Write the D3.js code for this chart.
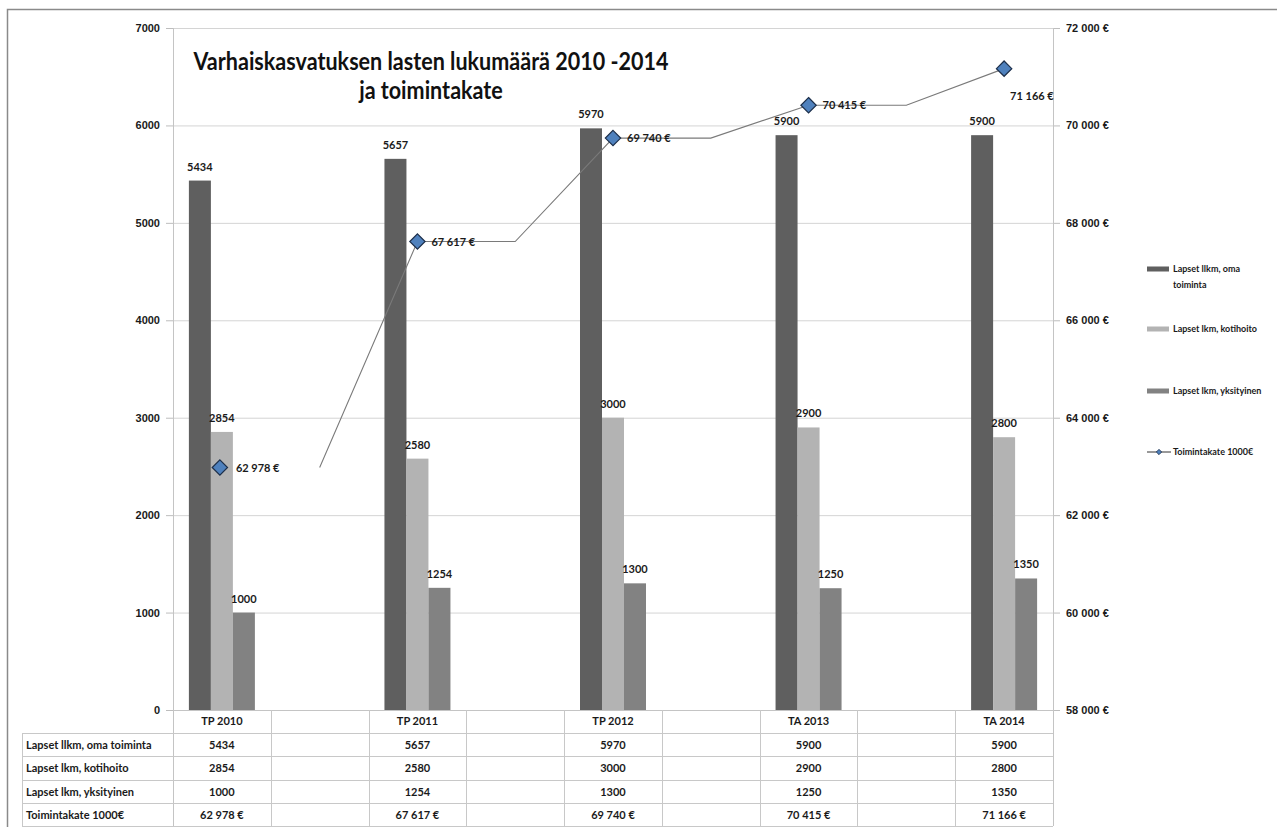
<!DOCTYPE html>
<html>
<head>
<meta charset="utf-8">
<script src="https://cdn.jsdelivr.net/npm/d3@7"></script>
<style>
  body { margin: 0; background: #fff; }
  svg { display: block; font-family: Lato, "Open Sans", sans-serif; }
</style>
</head>
<body>
<script>
// data
var categories = ["TP 2010", "", "TP 2011", "", "TP 2012", "", "TA 2013", "", "TA 2014"];
var omaToiminta = [5434, null, 5657, null, 5970, null, 5900, null, 5900];
var kotihoito = [2854, null, 2580, null, 3000, null, 2900, null, 2800];
var yksityinen = [1000, null, 1254, null, 1300, null, 1250, null, 1350];
var toimintakate = [62978, null, 67617, null, 69740, null, 70415, null, 71166];
// the line itself is drawn one category late in the original, with flat steps between years
var toimintakateLine = [null, 62978, 67617, 67617, 69740, 69740, 70415, 70415, 71166];

var seriesNames = ["Lapset llkm, oma toiminta", "Lapset lkm, kotihoito", "Lapset lkm, yksityinen"];
var lineName = "Toimintakate 1000€";
var leftTicks = [0, 1000, 2000, 3000, 4000, 5000, 6000, 7000];
var rightTicks = [58000, 60000, 62000, 64000, 66000, 68000, 70000, 72000];

var barColors = ["#5f5f5f", "#b3b3b3", "#828282"];
var gridColor = "#d4d4d4";

var width = 1277, height = 827;
var plot = {left: 173, right: 1053, top: 28, bottom: 710};

var svg = d3.select("body").append("svg")
    .attr("width", width)
    .attr("height", height);

// outer frame
svg.append("rect")
    .attr("x", 7.5).attr("y", 9.5)
    .attr("width", 1300).attr("height", 900)
    .attr("fill", "none")
    .attr("stroke", "#8a8a8a")
    .attr("stroke-width", 1.5);

var x = d3.scaleBand()
    .domain(d3.range(categories.length))
    .range([plot.left, plot.right]);

var inner = d3.scaleBand()
    .domain([0, 1, 2])
    .range([-33, 33]);

var y = d3.scaleLinear().domain([0, 7000]).range([plot.bottom, plot.top]);
var y2 = d3.scaleLinear().domain([58000, 72000]).range([plot.bottom, plot.top]);

var euro = d3.formatLocale({decimal: ",", thousands: " ", grouping: [3], currency: ["", " €"]}).format("$,.0f");

// gridlines
svg.append("g").selectAll("line")
  .data(leftTicks.filter(function(d) { return d > 0; }))
  .enter().append("line")
    .attr("x1", plot.left).attr("x2", plot.right)
    .attr("y1", function(d) { return y(d) + 0.5; })
    .attr("y2", function(d) { return y(d) + 0.5; })
    .attr("stroke", gridColor);

// left axis
var leftAxis = svg.append("g")
    .attr("transform", "translate(" + plot.left + ",0)")
    .call(d3.axisLeft(y).tickValues(leftTicks).tickSize(7).tickPadding(6).tickFormat(d3.format("d")));
leftAxis.select(".domain").remove();
leftAxis.selectAll(".tick line").attr("stroke", "#bdbdbd");
leftAxis.selectAll("text").attr("font-size", 11).attr("font-weight", 700).attr("fill", "#1a1a1a");
svg.append("line")
    .attr("x1", plot.left + 0.5).attr("x2", plot.left + 0.5)
    .attr("y1", plot.top).attr("y2", 826)
    .attr("stroke", "#c4c4c4");

// right axis
var rightAxis = svg.append("g")
    .attr("transform", "translate(" + plot.right + ",0)")
    .call(d3.axisRight(y2).tickValues(rightTicks).tickSize(7).tickPadding(6).tickFormat(euro));
rightAxis.select(".domain").remove();
rightAxis.selectAll(".tick line").attr("stroke", "#bdbdbd");
rightAxis.selectAll("text").attr("font-size", 11).attr("font-weight", 700).attr("fill", "#1a1a1a");
svg.append("line")
    .attr("x1", plot.right + 0.5).attr("x2", plot.right + 0.5)
    .attr("y1", plot.top).attr("y2", 826)
    .attr("stroke", "#c4c4c4");

// bars
var barSeries = [omaToiminta, kotihoito, yksityinen];
barSeries.forEach(function(values, s) {
  var g = svg.append("g");
  var pts = values.map(function(v, i) { return {i: i, v: v}; }).filter(function(d) { return d.v != null; });
  g.selectAll("rect")
    .data(pts)
    .enter().append("rect")
      .attr("x", function(d) { return x(d.i) + x.bandwidth() / 2 + inner(s); })
      .attr("width", inner.bandwidth())
      .attr("y", function(d) { return y(d.v); })
      .attr("height", function(d) { return y(0) - y(d.v); })
      .attr("fill", barColors[s]);
  g.selectAll("text")
    .data(pts)
    .enter().append("text")
      .attr("x", function(d) { return x(d.i) + x.bandwidth() / 2 + inner(s) + inner.bandwidth() / 2; })
      .attr("y", function(d) { return y(d.v) - 10; })
      .attr("text-anchor", "middle")
      .attr("font-size", 11)
      .attr("font-weight", 700)
      .attr("fill", "#1a1a1a")
      .text(function(d) { return d.v; });
});

// x axis baseline
svg.append("line")
    .attr("x1", plot.left).attr("x2", plot.right)
    .attr("y1", plot.bottom + 0.5).attr("y2", plot.bottom + 0.5)
    .attr("stroke", "#c4c4c4");

// title, squeezed a bit to get the narrow look of the original font
var title = svg.append("text")
    .attr("text-anchor", "middle")
    .attr("font-size", 24)
    .attr("font-weight", 700)
    .attr("fill", "#111");
var t1 = title.append("tspan").attr("x", 431).attr("y", 70)
    .text("Varhaiskasvatuksen lasten lukumäärä 2010 -2014");
var t2 = title.append("tspan").attr("x", 431).attr("y", 99)
    .text("ja toimintakate");
var squeeze = 475 / t1.node().getComputedTextLength();
t2.attr("textLength", t2.node().getComputedTextLength() * squeeze).attr("lengthAdjust", "spacingAndGlyphs");
t1.attr("textLength", 475).attr("lengthAdjust", "spacingAndGlyphs");

// toimintakate line
var linePts = toimintakateLine.map(function(v, i) { return {i: i, v: v}; });
svg.append("path")
    .datum(linePts)
    .attr("fill", "none")
    .attr("stroke", "#7a7a7a")
    .attr("stroke-width", 1.1)
    .attr("d", d3.line()
      .defined(function(d) { return d.v != null; })
      .x(function(d) { return x(d.i) + x.bandwidth() / 2; })
      .y(function(d) { return y2(d.v); }));

var markerPts = toimintakate.map(function(v, i) { return {i: i, v: v}; }).filter(function(d) { return d.v != null; });
var diamond = d3.symbol().type(d3.symbolDiamond2).size(150);

svg.append("g").selectAll("path")
  .data(markerPts)
  .enter().append("path")
    .attr("d", diamond)
    .attr("transform", function(d) { return "translate(" + (x(d.i) + x.bandwidth() / 2 - (d.i == 0 ? 2 : 0)) + "," + y2(d.v) + ")"; })
    .attr("fill", "#4f81bd")
    .attr("stroke", "#1d2f4a")
    .attr("stroke-width", 1.2);

svg.append("g").selectAll("text")
  .data(markerPts)
  .enter().append("text")
    .attr("x", function(d, k) { return x(d.i) + x.bandwidth() / 2 + (k == markerPts.length - 1 ? 6 : 14); })
    .attr("y", function(d, k) { return y2(d.v) + (k == markerPts.length - 1 ? 31 : 4); })
    .attr("font-size", 11)
    .attr("font-weight", 700)
    .attr("fill", "#1a1a1a")
    .text(function(d) { return euro(d.v); });

// data table
var rowTop = [733, 756, 780, 803];
var tableRows = [omaToiminta, kotihoito, yksityinen, toimintakate];
var rowLabels = seriesNames.concat([lineName]);
var tbl = svg.append("g");

rowTop.concat([826]).forEach(function(t) {
  tbl.append("line")
    .attr("x1", 22).attr("x2", plot.right)
    .attr("y1", t + 0.5).attr("y2", t + 0.5)
    .attr("stroke", "#c8c8c8");
});
tbl.append("line")
    .attr("x1", 22.5).attr("x2", 22.5)
    .attr("y1", 733).attr("y2", 826)
    .attr("stroke", "#c8c8c8");
tbl.selectAll("line.cat")
  .data(d3.range(1, categories.length))
  .enter().append("line")
    .attr("x1", function(i) { return Math.round(x(i)) + 0.5; })
    .attr("x2", function(i) { return Math.round(x(i)) + 0.5; })
    .attr("y1", plot.bottom).attr("y2", 826)
    .attr("stroke", "#c8c8c8");

tbl.selectAll("text.cat")
  .data(categories)
  .enter().append("text")
    .attr("x", function(d, i) { return x(i) + x.bandwidth() / 2; })
    .attr("y", plot.bottom + 15)
    .attr("text-anchor", "middle")
    .attr("font-size", 11)
    .attr("font-weight", 700)
    .attr("fill", "#1a1a1a")
    .text(function(d) { return d; });

tableRows.forEach(function(values, r) {
  tbl.append("text")
    .attr("x", 26)
    .attr("y", rowTop[r] + 16)
    .attr("font-size", 11)
    .attr("font-weight", 700)
    .attr("fill", "#1a1a1a")
    .text(rowLabels[r]);
  tbl.selectAll(null)
    .data(values.map(function(v, i) { return {i: i, v: v}; }).filter(function(d) { return d.v != null; }))
    .enter().append("text")
      .attr("x", function(d) { return x(d.i) + x.bandwidth() / 2; })
      .attr("y", rowTop[r] + 16)
      .attr("text-anchor", "middle")
      .attr("font-size", 11)
      .attr("font-weight", 700)
      .attr("fill", "#1a1a1a")
      .text(function(d) { return r == 3 ? euro(d.v) : d.v; });
});

// legend
var legend = svg.append("g").attr("font-size", 9).attr("font-weight", 700).attr("fill", "#1a1a1a");
var legendY = [269, 329, 391];
seriesNames.forEach(function(name, s) {
  legend.append("rect")
    .attr("x", 1147).attr("y", legendY[s] - 2.5)
    .attr("width", 22).attr("height", 5)
    .attr("fill", barColors[s]);
  var t = legend.append("text").attr("x", 1173).attr("y", legendY[s] + 3);
  if (s == 0) {
    t.append("tspan").attr("x", 1173).text("Lapset llkm, oma");
    t.append("tspan").attr("x", 1173).attr("dy", 16).text("toiminta");
  } else {
    t.text(name);
  }
});
legend.append("line")
    .attr("x1", 1147).attr("x2", 1171)
    .attr("y1", 452).attr("y2", 452)
    .attr("stroke", "#333").attr("stroke-width", 1);
legend.append("path")
    .attr("d", d3.symbol().type(d3.symbolDiamond2).size(18))
    .attr("transform", "translate(1159,452)")
    .attr("fill", "#4f81bd")
    .attr("stroke", "#1d2f4a")
    .attr("stroke-width", 0.8);
legend.append("text").attr("x", 1173).attr("y", 455).text(lineName);
</script>
</body>
</html>
